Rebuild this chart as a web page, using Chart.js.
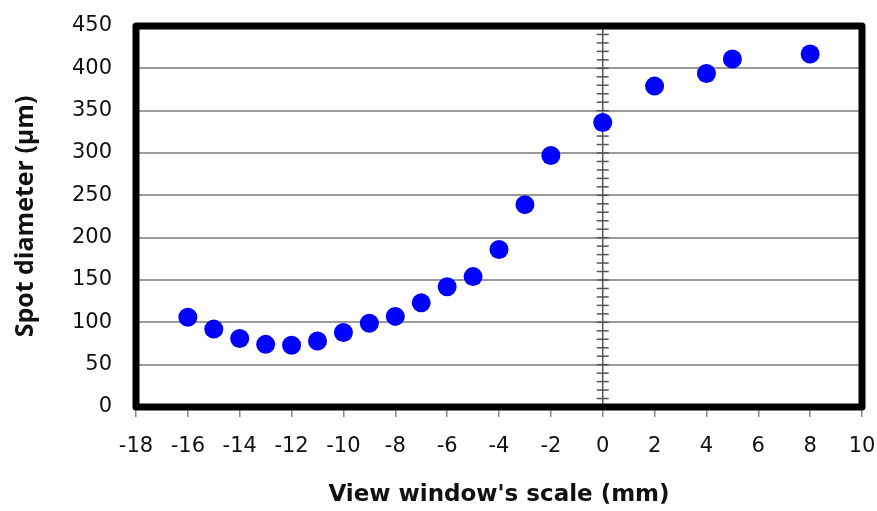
<!DOCTYPE html>
<html>
<head>
<meta charset="utf-8">
<script src="https://cdn.jsdelivr.net/npm/chart.js@4"></script>
<style>
  html, body { margin: 0; padding: 0; background: #fff; }
  #c { display: block; }
</style>
</head>
<body>
<canvas id="c" width="877" height="511"></canvas>
<script>
// ---- data ----
const viewScale = [-16, -15, -14, -13, -12, -11, -10, -9, -8, -7, -6, -5, -4, -3, -2, 0, 2, 4, 5, 8];
const spotDiameter = [106, 92, 81, 74, 73, 78, 88, 99, 107, 123, 142, 154, 186, 239, 297, 336, 379, 394, 411, 417];
const xTickValues = [-18, -16, -14, -12, -10, -8, -6, -4, -2, 0, 2, 4, 6, 8, 10];
const yTickValues = [0, 50, 100, 150, 200, 250, 300, 350, 400, 450];
const zeroLineMinorStep = 10;

const points = viewScale.map((x, i) => ({ x: x, y: spotDiameter[i] }));

const framePlugin = {
  id: 'frame',
  beforeDatasetsDraw(chart) {
    const { ctx, chartArea: a, scales } = chart;
    const x0 = scales.x.getPixelForValue(0);
    ctx.save();
    ctx.strokeStyle = '#555';
    ctx.lineWidth = 1.5;
    ctx.beginPath();
    ctx.moveTo(x0, a.top);
    ctx.lineTo(x0, a.bottom);
    ctx.stroke();
    const yMax = yTickValues[yTickValues.length - 1];
    for (let v = 0; v <= yMax; v += zeroLineMinorStep) {
      const py = scales.y.getPixelForValue(v);
      ctx.beginPath();
      ctx.moveTo(x0 - 6, py);
      ctx.lineTo(x0 + 6, py);
      ctx.stroke();
    }
    ctx.restore();
  },
  afterDraw(chart) {
    const { ctx, chartArea: a } = chart;
    ctx.save();
    ctx.strokeStyle = '#000';
    ctx.lineWidth = 7;
    ctx.lineJoin = 'round';
    ctx.strokeRect(a.left, a.top, a.right - a.left, a.bottom - a.top);
    ctx.restore();
  }
};

new Chart(document.getElementById('c'), {
  type: 'scatter',
  data: {
    datasets: [{
      data: points,
      backgroundColor: '#0000ff',
      borderColor: '#0000ff',
      pointRadius: 9.5,
      pointHoverRadius: 9.5,
      borderWidth: 0
    }]
  },
  options: {
    responsive: false,
    animation: false,
    devicePixelRatio: 1,
    layout: { padding: { top: 26, right: 15, left: 0, bottom: 0 } },
    plugins: { legend: { display: false }, tooltip: { enabled: false } },
    scales: {
      x: {
        type: 'linear',
        min: xTickValues[0],
        max: xTickValues[xTickValues.length - 1],
        afterBuildTicks(scale) { scale.ticks = xTickValues.map(v => ({ value: v })); },
        afterFit(scale) { scale.height = 104; scale.paddingLeft = 0; scale.paddingRight = 0; },
        border: { display: false },
        grid: { drawOnChartArea: false, drawTicks: true, tickLength: 10, color: '#888', lineWidth: 1.5 },
        ticks: { padding: 17, color: '#111', font: { family: 'DejaVu Sans', size: 21 }, maxRotation: 0, autoSkip: false },
        title: {
          display: true,
          text: "View window's scale (mm)",
          color: '#111',
          font: { family: 'DejaVu Sans', size: 23, weight: 'bold' },
          padding: { top: 0, bottom: 2 }
        }
      },
      y: {
        type: 'linear',
        min: yTickValues[0],
        max: yTickValues[yTickValues.length - 1],
        afterBuildTicks(scale) { scale.ticks = yTickValues.map(v => ({ value: v })); },
        afterFit(scale) { scale.width = 136; scale.paddingTop = 0; scale.paddingBottom = 0; },
        border: { display: false },
        grid: { drawTicks: false, color: '#9a9a9a', lineWidth: 2 },
        ticks: { padding: 24, color: '#111', font: { family: 'DejaVu Sans', size: 21 }, autoSkip: false },
        title: {
          display: true,
          text: 'Spot diameter (µm)',
          color: '#111',
          font: { family: 'Open Sans', size: 25, weight: 'bold' },
          padding: { top: 11, bottom: 0 }
        }
      }
    }
  },
  plugins: [framePlugin]
});
</script>
</body>
</html>
